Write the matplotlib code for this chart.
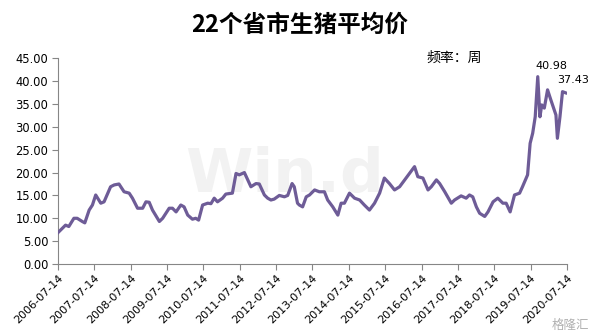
import matplotlib
matplotlib.use("Agg")
import matplotlib.pyplot as plt
import numpy as np
import pandas as pd

plt.rcParams['font.family'] = ['Noto Sans CJK SC', 'DejaVu Sans']

title = "22个省市生猪平均价"
freq_label = "频率：周"

years = [2006.53, 2006.74, 2006.83, 2006.97, 2007.06, 2007.20, 2007.27, 2007.39, 2007.48, 2007.57,
         2007.71, 2007.80, 2007.98, 2008.08, 2008.21, 2008.35, 2008.49, 2008.58, 2008.72, 2008.86,
         2008.95, 2009.04, 2009.13, 2009.32, 2009.41, 2009.59, 2009.68, 2009.78, 2009.91, 2010.00,
         2010.10, 2010.23, 2010.32, 2010.40, 2010.51, 2010.65, 2010.74, 2010.83, 2010.92, 2011.06,
         2011.15, 2011.33, 2011.43, 2011.52, 2011.66, 2011.84, 2011.98, 2012.07, 2012.21, 2012.30,
         2012.39, 2012.48, 2012.62, 2012.76, 2012.85, 2012.97, 2013.03, 2013.12, 2013.17, 2013.26,
         2013.36, 2013.45, 2013.59, 2013.72, 2013.86, 2013.95, 2014.09, 2014.23, 2014.32, 2014.41,
         2014.55, 2014.69, 2014.83, 2014.96, 2015.10, 2015.24, 2015.38, 2015.51, 2015.65, 2015.79,
         2015.93, 2016.07, 2016.20, 2016.34, 2016.43, 2016.57, 2016.71, 2016.80, 2016.94, 2017.03,
         2017.17, 2017.35, 2017.44, 2017.62, 2017.76, 2017.85, 2017.94, 2018.04, 2018.13, 2018.27,
         2018.36, 2018.50, 2018.63, 2018.77, 2018.86, 2018.97, 2019.09, 2019.23, 2019.31, 2019.45,
         2019.52, 2019.59, 2019.66, 2019.73, 2019.79, 2019.84, 2019.91, 2020.00, 2020.09, 2020.23,
         2020.27, 2020.34, 2020.41, 2020.50]
prices = [6.85, 8.5, 8.2, 10.0, 10.0, 9.3, 9.0, 11.8, 12.9, 15.1,
          13.3, 13.6, 16.9, 17.3, 17.5, 15.8, 15.5, 14.4, 12.2, 12.2,
          13.6, 13.5, 11.8, 9.3, 10.0, 12.2, 12.2, 11.4, 12.9, 12.5,
          10.7, 9.8, 10.0, 9.6, 12.9, 13.3, 13.2, 14.4, 13.6, 14.4,
          15.3, 15.5, 19.8, 19.5, 20.0, 16.9, 17.6, 17.5, 15.1, 14.4,
          14.0, 14.2, 15.0, 14.7, 15.0, 17.6, 16.9, 13.3, 12.9, 12.5,
          14.7, 15.1, 16.2, 15.8, 15.8, 14.0, 12.5, 10.7, 13.3, 13.3,
          15.5, 14.4, 14.0, 12.9, 11.8, 13.3, 15.5, 18.8, 17.6, 16.2,
          16.9, 18.4, 19.8, 21.3, 19.1, 18.8, 16.2, 16.9, 18.4, 17.6,
          15.8, 13.3, 14.0, 14.9, 14.4, 15.1, 14.7, 12.5, 11.1, 10.4,
          11.4, 13.6, 14.4, 13.3, 13.3, 11.4, 15.1, 15.5, 16.9, 19.5,
          26.4, 28.6, 32.2, 40.98, 32.2, 34.8, 34.1, 38.1, 35.9, 32.6,
          27.5, 32.2, 37.7, 37.43]
tick_labels = [f"{y}-07-14" for y in range(2006, 2021)]
y_ticks = [0, 5, 10, 15, 20, 25, 30, 35, 40, 45]


def frac_year_to_date(fy):
    y = int(fy)
    start = pd.Timestamp(year=y, month=1, day=1)
    end = pd.Timestamp(year=y + 1, month=1, day=1)
    return start + (end - start) * (fy - y)


dates = [frac_year_to_date(v) for v in years]
tick_dates = [pd.Timestamp(t) for t in tick_labels]

fig = plt.figure(figsize=(5.94, 3.36), dpi=100)
ax = fig.add_axes([0.0976, 0.2143, 0.8569, 0.6122])

line_color = '#6e5c97'
ax.plot(dates, prices, color=line_color, lw=2.3, solid_joinstyle='round', zorder=3)

ax.set_xlim(tick_dates[0], tick_dates[-1])
ax.set_ylim(0, 45)
ax.set_yticks(y_ticks)
ax.set_yticklabels([f"{v:.2f}" for v in y_ticks], family='DejaVu Sans', fontsize=8.3)
ax.set_xticks(tick_dates)
ax.set_xticklabels(tick_labels, rotation=45, ha='right', rotation_mode='anchor',
                   family='DejaVu Sans', fontsize=8)

for s in ['top', 'right']:
    ax.spines[s].set_visible(False)
for s in ['left', 'bottom']:
    ax.spines[s].set_color('#868686')
    ax.spines[s].set_linewidth(0.8)
ax.tick_params(axis='both', colors='#868686', labelcolor='black', length=4, width=0.8)
ax.tick_params(axis='x', pad=2)
ax.tick_params(axis='y', pad=3)

# watermark
ax.text(0.445, 0.43, "Win.d", transform=ax.transAxes, fontsize=44, fontweight='bold',
        color='#f2f2f2', ha='center', va='center', zorder=0, family='Liberation Sans Narrow')

fig.text(0.992, 0.032, "格隆汇", ha='right', va='center', fontsize=9, color='#b0b0b0')

fig.text(0.505, 0.925, title, ha='center', va='center', fontsize=17, fontweight='bold')
fig.text(0.765, 0.828, freq_label, ha='center', va='center', fontsize=10)

# annotations for peak and latest values
i_peak = int(np.argmax(prices))
ax.annotate(f"{prices[i_peak]:.2f}", (dates[i_peak], prices[i_peak]), xytext=(10, 4),
            textcoords='offset points', ha='center', va='bottom', fontsize=8, family='DejaVu Sans')
ax.annotate(f"{prices[-1]:.2f}", (dates[-1], prices[-1]), xytext=(5, 6),
            textcoords='offset points', ha='center', va='bottom', fontsize=8, family='DejaVu Sans')

fig.savefig("out.png", dpi=100)
